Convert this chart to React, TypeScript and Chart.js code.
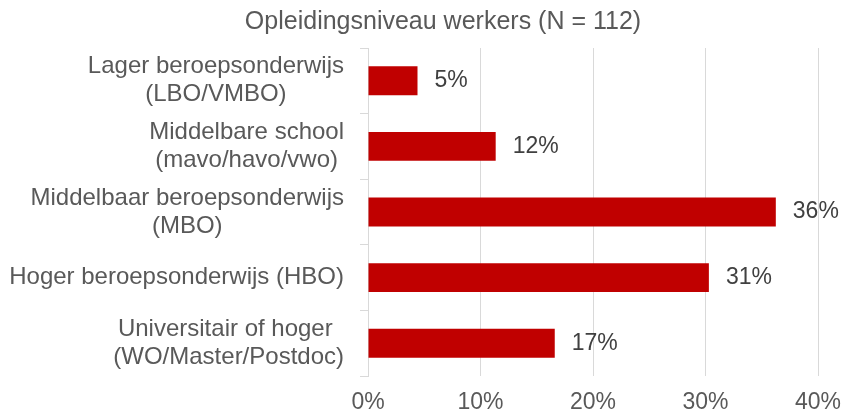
import React, { useEffect, useRef } from "react";
import { Chart, registerables } from "chart.js";

Chart.register(...registerables);

const title = "Opleidingsniveau werkers (N = 112)";
const categories: string[][] = [
  ["Lager beroepsonderwijs", "(LBO/VMBO)"],
  ["Middelbare school", "(mavo/havo/vwo)"],
  ["Middelbaar beroepsonderwijs", "(MBO)"],
  ["Hoger beroepsonderwijs (HBO)"],
  ["Universitair of hoger ", "(WO/Master/Postdoc)"],
];
const values = [4.4, 11.35, 36.25, 30.3, 16.6];
const valueLabels = ["5%", "12%", "36%", "31%", "17%"];
const xTicks = [0, 10, 20, 30, 40];

const FONT = "'Liberation Sans', Arial, sans-serif";

const textPlugin = {
  id: "customText",
  afterDraw(chart: any) {
    const ctx = chart.ctx as CanvasRenderingContext2D;
    const xs = chart.scales.x;
    const ys = chart.scales.y;
    ctx.save();
    // title
    ctx.font = `25px ${FONT}`;
    ctx.fillStyle = "#595959";
    ctx.textAlign = "center";
    ctx.textBaseline = "alphabetic";
    ctx.fillText(title, 443, 29);

    // category labels (each block centered, block right-aligned)
    ctx.font = `24px ${FONT}`;
    ctx.textBaseline = "middle";
    const right = ys.right - 24;
    categories.forEach((lines, i) => {
      const cy = ys.getPixelForValue(i);
      const maxW = Math.max(...lines.map((l) => ctx.measureText(l).width));
      const cx = right - maxW / 2;
      lines.forEach((line, j) => {
        const y = cy + (j - (lines.length - 1) / 2) * 28;
        ctx.fillText(line, cx, y);
      });
    });

    // data labels
    ctx.font = `23px ${FONT}`;
    ctx.fillStyle = "#404040";
    ctx.textAlign = "left";
    values.forEach((v, i) => {
      const x = xs.getPixelForValue(v) + 17;
      const y = ys.getPixelForValue(i);
      ctx.fillText(valueLabels[i], x, y);
    });
    ctx.restore();
  },
};

export default function App() {
  const ref = useRef<HTMLCanvasElement>(null);
  useEffect(() => {
    document.body.style.margin = "0";
    const chart = new Chart(ref.current!, {
      type: "bar",
      data: {
        labels: categories.map((c) => c.join(" ")),
        datasets: [
          {
            data: values,
            backgroundColor: "#C00000",
            borderWidth: 0,
            barPercentage: 0.44,
            categoryPercentage: 1,
          },
        ],
      },
      options: {
        indexAxis: "y",
        animation: false,
        responsive: false,
        layout: { padding: { top: 48, right: 25, left: 0, bottom: 0 } },
        plugins: {
          legend: { display: false },
          title: { display: false },
          tooltip: { enabled: false },
        },
        scales: {
          x: {
            min: 0,
            max: 40,
            afterBuildTicks: (scale: any) => {
              scale.ticks = xTicks.map((v) => ({ value: v }));
            },
            afterFit: (scale: any) => {
              scale.height = 40;
              scale.paddingRight = 0;
              scale.paddingLeft = 0;
            },
            ticks: {
              callback: (v: any) => `${v}%`,
              color: "#595959",
              font: { family: FONT, size: 23 },
              padding: 13,
              maxRotation: 0,
            },
            grid: { color: "#d9d9d9", drawTicks: false, lineWidth: 1 },
            border: { display: false },
          },
          y: {
            afterFit: (scale: any) => {
              scale.width = 368;
            },
            ticks: { display: false },
            grid: {
              drawOnChartArea: false,
              drawTicks: true,
              tickLength: 8,
              color: "#d9d9d9",
              offset: true,
            },
            border: { display: true, color: "#d9d9d9" },
          },
        },
      },
      plugins: [textPlugin],
    });
    return () => chart.destroy();
  }, []);
  return (
    <div style={{ width: 843, height: 416, background: "#fff" }}>
      <canvas ref={ref} width={843} height={416} />
    </div>
  );
}
